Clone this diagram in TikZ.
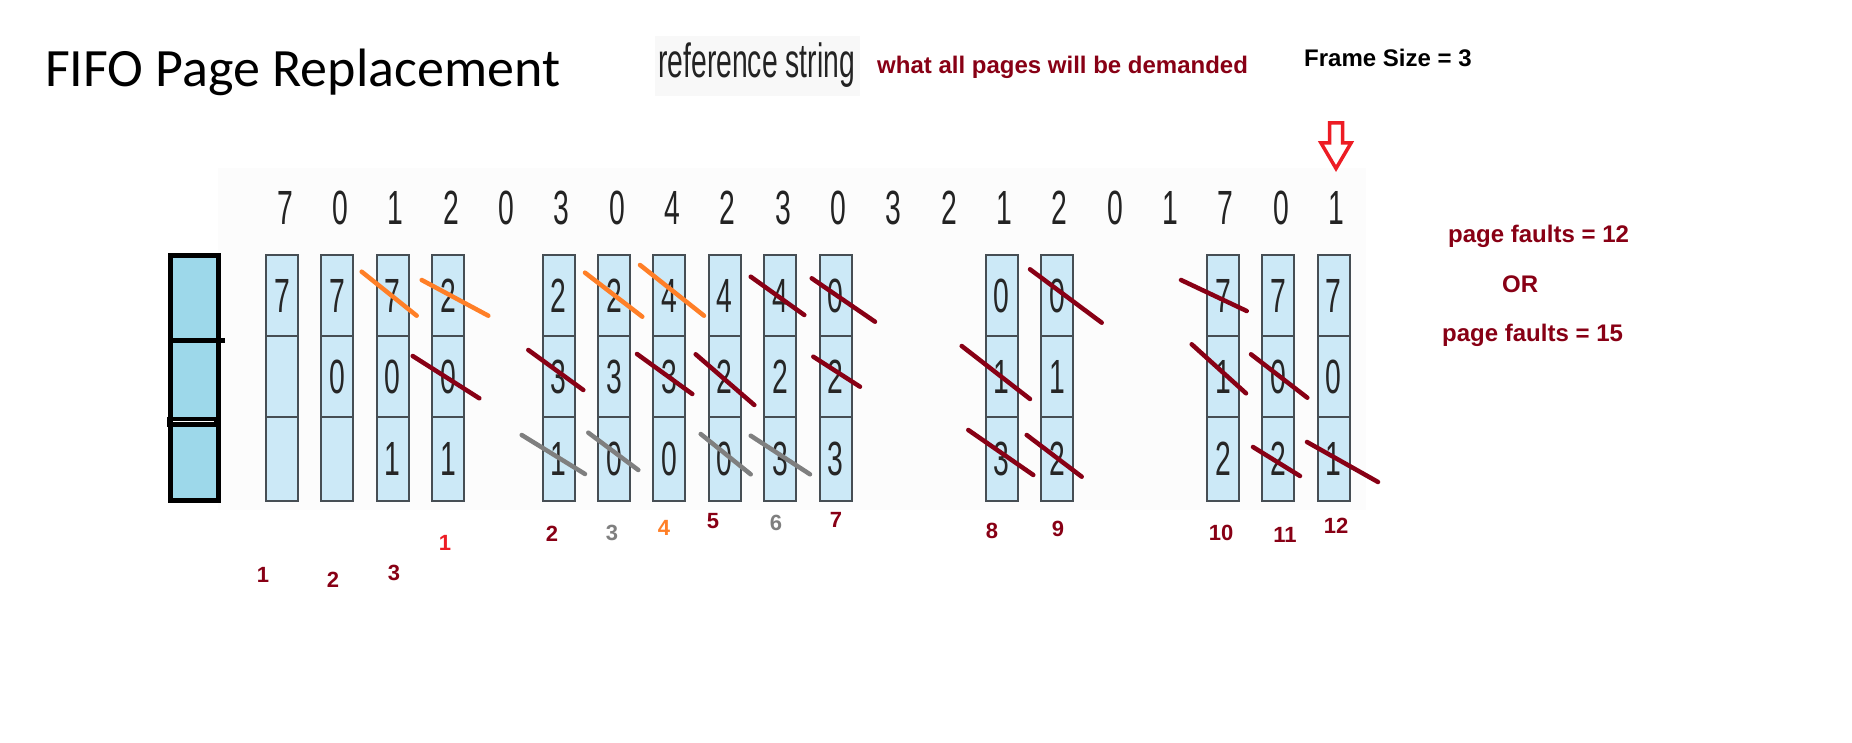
\documentclass[tikz,border=0pt]{standalone}
\usepackage{fontspec}
\newfontfamily\titlefont{Carlito}
\newfontfamily\arialfont{Liberation Sans}
\newfontfamily\narrowfont[FakeStretch=0.59]{Liberation Sans}
\definecolor{dred}{RGB}{136,0,21}
\definecolor{orng}{RGB}{255,127,39}
\definecolor{gry}{RGB}{127,127,127}
\definecolor{brred}{RGB}{237,28,36}
\definecolor{cellfill}{RGB}{204,233,247}
\definecolor{celledge}{RGB}{70,78,84}
\definecolor{boxfill}{RGB}{157,216,234}
\definecolor{refgray}{RGB}{35,35,35}
\definecolor{faint}{RGB}{252,252,252}
\definecolor{faintb}{RGB}{248,248,248}
\tikzset{
  lbl/.style={font=\arialfont\bfseries\fontsize{22}{24}\selectfont, inner sep=0pt},
  note/.style={font=\arialfont\bfseries\fontsize{24}{28}\selectfont, inner sep=0pt, anchor=base west, text=dred},
  refdigit/.style={font=\narrowfont\fontsize{48}{52}\selectfont, inner sep=0pt, anchor=base, text=refgray},
  cellbox/.style={draw=celledge, line width=2pt, fill=cellfill, inner sep=0pt, minimum width=32pt,
     font=\narrowfont\fontsize{48}{52}\selectfont, text=black!85},
  strike/.style={line width=4.5pt, line cap=round},
}
\begin{document}
\begin{tikzpicture}[x=1pt,y=-1pt]
\path[fill=white] (0,0) rectangle (1852,743);
\useasboundingbox (0,0) rectangle (1852,743);
% faint backgrounds
\fill[faint] (218,168) rectangle (1366,510);
\fill[faintb] (655,36) rectangle (860,96);
% title and notes
\node[font=\titlefont\fontsize{54}{60}\selectfont, anchor=base west, inner sep=0pt] (title) at (45,87) {FIFO Page Replacement};
\node[font=\narrowfont\fontsize{48}{52}\selectfont, anchor=base west, inner sep=0pt, text=refgray] (refstr) at (658,78) {reference string};
\node[note] (what) at (877,74) {what all pages will be demanded};
\node[note, text=black] (frame) at (1304,67) {Frame Size = 3};
\node[note] (pf1) at (1448,243) {page faults = 12};
\node[note] (or) at (1502,292) {OR};
\node[note] (pf2) at (1442,341) {page faults = 15};
% red hollow arrow
\draw[brred, line width=3.5pt, line join=miter, fill=white]
  (1329.5,123) -- (1342.5,123) -- (1342.5,143) -- (1351,143) -- (1336,168.5) -- (1321,143) -- (1329.5,143) -- cycle;
% reference string digits
\foreach \d [count=\i] in {7,0,1,2,0,3,0,4,2,3,0,3,2,1,2,0,1,7,0,1}
  \node[refdigit] (r\i) at ({285+(\i-1)*55.33},225) {\d};
% left frame box
\fill[boxfill] (170.5,255.5) rectangle (218.5,500.5);
\draw[black, line width=5pt] (170.5,255.5) rectangle (218.5,500.5);
\fill[black] (168,338) rectangle (225,343);
\fill[black] (167,417) rectangle (220,427);
\fill[white] (173,420.5) rectangle (214,422);
% frame columns
\foreach \i/\a/\b/\c [count=\k] in {1/7/{}/{}, 2/7/0/{}, 3/7/0/1, 4/2/0/1, 6/2/3/1, 7/2/3/0, 8/4/3/0, 9/4/2/0, 10/4/2/3, 11/0/2/3, 14/0/1/3, 15/0/1/2, 18/7/1/2, 19/7/0/2, 20/7/0/1} {
  \pgfmathsetmacro\cx{282+(\i-1)*55.35}
  \node[cellbox, minimum height=81pt] (c\k a) at (\cx,295.5) {\a};
  \node[cellbox, minimum height=81pt] (c\k b) at (\cx,376.5) {\b};
  \node[cellbox, minimum height=84pt] (c\k c) at (\cx,459) {\c};
}
% strike lines
\foreach \p/\q in {{361.7,271.7}/{416.7,315.7}, {421.7,280}/{488.3,315.7}, {585,272.7}/{642.3,316.7}, {640,265}/{704,315.7}}
  \draw[strike, orng] (\p) -- (\q);
\foreach \p/\q in {{412.7,356}/{479.3,398.3}, {528.3,350}/{583.3,390}, {637,354}/{692.3,394}, {695.7,354.3}/{754.3,405}, {750.7,276.7}/{804.3,315}, {811.7,278.3}/{875,321.7}, {813.3,356.7}/{860,386.7}, {961.7,346}/{1030,399}, {968.3,430}/{1033.3,475}, {1030,269.3}/{1101.7,322.7}, {1026.7,435}/{1081.7,476.7}, {1181,280}/{1246.7,311}, {1191.7,344.3}/{1246,393.3}, {1251,354.3}/{1307.3,397.7}, {1253,447}/{1300,476}, {1307,442}/{1378,482}}
  \draw[strike, dred] (\p) -- (\q);
\foreach \p/\q in {{521.7,435}/{585,474}, {588.3,432.7}/{638.3,470}, {700.7,434}/{750.7,474.3}, {750.7,435.7}/{810,474.3}}
  \draw[strike, gry] (\p) -- (\q);
% count labels
\node[lbl, text=dred] (l1) at (263,575) {1};
\node[lbl, text=dred] (l2) at (333,580) {2};
\node[lbl, text=dred] (l3) at (394,573) {3};
\node[lbl, text=brred] (l4) at (445,543) {1};
\node[lbl, text=dred] (l5) at (552,534) {2};
\node[lbl, text=gry] (l6) at (612,533) {3};
\node[lbl, text=orng] (l7) at (664,528) {4};
\node[lbl, text=dred] (l8) at (713,521) {5};
\node[lbl, text=gry] (l9) at (776,523) {6};
\node[lbl, text=dred] (l10) at (836,520) {7};
\node[lbl, text=dred] (l11) at (992,531) {8};
\node[lbl, text=dred] (l12) at (1058,529) {9};
\node[lbl, text=dred] (l13) at (1221,533) {10};
\node[lbl, text=dred] (l14) at (1285,535) {11};
\node[lbl, text=dred] (l15) at (1336,526) {12};
\end{tikzpicture}
\end{document}
